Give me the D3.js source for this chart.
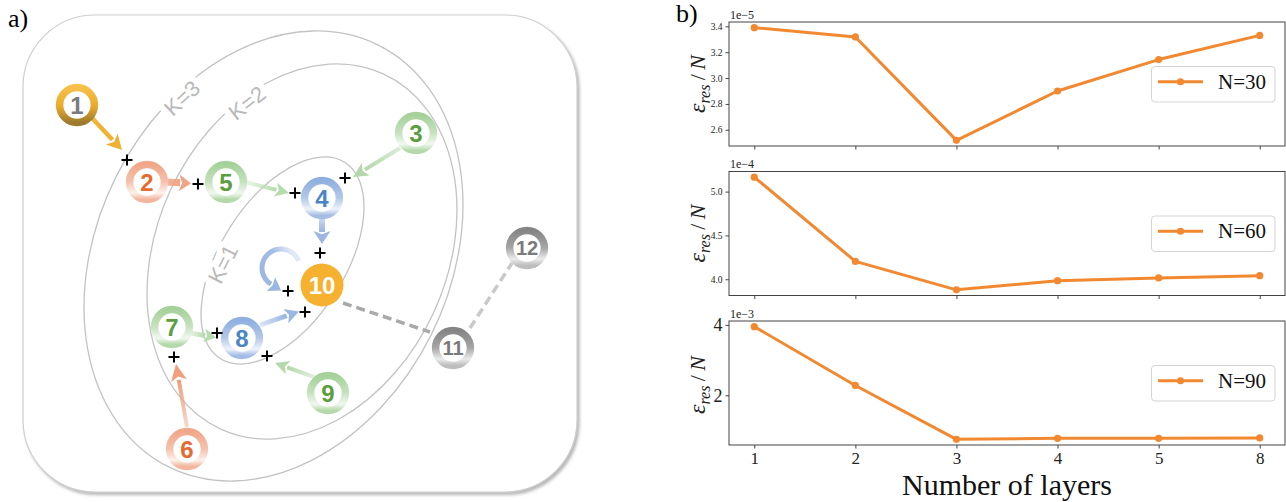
<!DOCTYPE html>
<html><head><meta charset="utf-8">
<script src="https://cdn.jsdelivr.net/npm/d3@7/dist/d3.min.js"></script>
<style>body{margin:0;background:#fff;} svg{display:block;}</style>
</head><body>
<script>
// ================= panel b data =================
const layers = ["1", "2", "3", "4", "5", "8"];
const errN30 = [3.39, 3.318, 2.518, 2.90, 3.143, 3.33];    // x 1e-5
const errN60 = [5.165, 4.204, 3.879, 3.984, 4.015, 4.041]; // x 1e-4
const errN90 = [3.95, 2.28, 0.75, 0.78, 0.78, 0.79];       // x 1e-3
const seriesLabels = ["N=30", "N=60", "N=90"];
const offsetLabels = ["1e\u22125", "1e\u22124", "1e\u22123"];
const yTicks30 = [2.6, 2.8, 3.0, 3.2, 3.4];
const yTicks60 = [4.0, 4.5, 5.0];
const yTicks90 = [2, 4];
const xLabel = "Number of layers";

// ================= panel a diagram =================
// [id, x, y, colour group]
const nodes = [
  [1, 77, 105, "gold"], [2, 147, 182, "orange"], [3, 416, 133, "green"],
  [4, 322, 198, "blue"], [5, 226, 182, "green"], [6, 187, 449, "orange"],
  [7, 172, 327, "green"], [8, 242, 338, "blue"], [9, 328, 393, "green"],
  [10, 322, 285, "solid"], [11, 453, 348, "gray"], [12, 527, 248, "gray"]
];
// [x1, y1, tipX, tipY, colour, shaft width, head length, head width, start opacity]
const arrows = [
  [92, 118, 122, 150, "#f0b030", 4.5, 15, 16, 0.95],
  [166, 182, 191, 183.5, "#f2a487", 7, 12, 17, 0.8],
  [245, 182, 289, 193, "#b6dcae", 4, 14, 14, 0.25],
  [400, 148, 353, 177, "#b3d9aa", 4, 15, 15, 0.5],
  [322, 218, 322, 244, "#9bb7e2", 6, 13, 17, 0.5],
  [187, 427, 176, 364, "#f0a07e", 4, 17, 16, 0.4],
  [190, 333, 216, 337.5, "#b6dcae", 5, 12, 14, 0.3],
  [260, 325, 299, 311.5, "#9ab6e2", 5, 14, 15, 0.35],
  [317, 378, 275, 363, "#b3d9aa", 4, 14, 14, 0.3]
];
const crosses = [
  [127, 160], [198, 184], [295, 193], [345, 178], [320, 253],
  [288, 291], [305, 312], [217, 333], [174, 357], [267, 356]
];
// [cx, cy, semi-major, semi-minor, rotation]
const ellipses = [
  [273.5, 256, 235.5, 176.3, -63.6],
  [302, 251.5, 195.3, 145.1, -65.4],
  [282.5, 260.5, 116.2, 62.1, -57.5]
];
// [x, y, rotation, text]
const kLabels = [[182, 98, -43, "K=3"], [247, 103, -38, "K=2"], [223, 264, -63, "K=1"]];
const dashed = [[343, 303, 430, 332, "#a9a9a9"], [470, 328, 512, 263, "#c9c9c9"]];

const W = 1286, H = 502;
const svg = d3.select("body").append("svg").attr("width", W).attr("height", H);
const defs = svg.append("defs");

// ---------- panel a ----------
const shadow = defs.append("filter").attr("id", "shadow").attr("x", "-5%").attr("y", "-5%").attr("width", "112%").attr("height", "112%");
shadow.append("feDropShadow").attr("dx", 2).attr("dy", 2.5).attr("stdDeviation", 1.8)
  .attr("flood-color", "#7a7a7a").attr("flood-opacity", 0.55);

const ringStops = {
  gold: [["0", "#f7c04a"], ["0.55", "#e9aa2a"], ["1", "#9c7a2e"]],
  orange: [["0", "#f2a78a"], ["0.5", "#f5c2ad"], ["0.82", "#fdf1ec"], ["1", "#f2b59e"]],
  green: [["0", "#a6d19b"], ["0.5", "#c6e2be"], ["0.82", "#f1f8ef"], ["1", "#b4d9ab"]],
  blue: [["0", "#8fb0de"], ["0.5", "#b3c8e8"], ["0.82", "#eef3fb"], ["1", "#a5bde4"]],
  gray: [["0", "#858585"], ["0.5", "#a6a6a6"], ["0.82", "#ececec"], ["1", "#bdbdbd"]]
};
const numColor = { gold: "#7b7b7b", orange: "#e76a30", green: "#5c9e3e", blue: "#4a86c6", gray: "#7a7a7a", solid: "#ffffff" };
Object.entries(ringStops).forEach(([k, st]) => {
  const g = defs.append("linearGradient").attr("id", "ring-" + k).attr("x1", 0).attr("y1", 0).attr("x2", 0).attr("y2", 1);
  st.forEach(s => g.append("stop").attr("offset", s[0]).attr("stop-color", s[1]));
});

const pa = svg.append("g");
pa.append("text").attr("x", 8).attr("y", 27).attr("font-family", "Liberation Serif, Times New Roman, serif")
  .attr("font-size", 26).text("a)");
pa.append("rect").attr("x", 23).attr("y", 15).attr("width", 554).attr("height", 477)
  .attr("rx", 72).attr("ry", 72).attr("fill", "#fff").attr("stroke", "#cfcfcf").attr("stroke-width", 1.2)
  .attr("filter", "url(#shadow)");

pa.selectAll("ellipse.k").data(ellipses).join("ellipse")
  .attr("transform", d => `translate(${d[0]},${d[1]}) rotate(${d[4]})`)
  .attr("rx", d => d[2]).attr("ry", d => d[3])
  .attr("fill", "none").attr("stroke", "#c3c3c3").attr("stroke-width", 1.3);

pa.selectAll("text.k").data(kLabels).join("text")
  .attr("transform", d => `translate(${d[0]},${d[1]}) rotate(${d[2]})`)
  .attr("text-anchor", "middle").attr("dy", "0.35em")
  .attr("font-family", "Liberation Sans, Arial, sans-serif").attr("font-size", 22)
  .attr("fill", "#b9b9b9").attr("stroke", "#fff").attr("stroke-width", 12)
  .attr("paint-order", "stroke").attr("stroke-linejoin", "round").text(d => d[3]);

// dashed links
dashed.forEach(d => {
  pa.append("line").attr("x1", d[0]).attr("y1", d[1]).attr("x2", d[2]).attr("y2", d[3])
    .attr("stroke", d[4]).attr("stroke-width", 3.5).attr("stroke-dasharray", "9,5");
});

// arrows
arrows.forEach((a, i) => {
  const [x1, y1, x2, y2, col, sw, hl, hw, op] = a;
  const dx = x2 - x1, dy = y2 - y1, L = Math.hypot(dx, dy);
  const ux = dx / L, uy = dy / L, px = -uy, py = ux;
  const bx = x2 - ux * hl, by = y2 - uy * hl;
  const gid = "arr" + i;
  const g = defs.append("linearGradient").attr("id", gid).attr("gradientUnits", "userSpaceOnUse")
    .attr("x1", x1).attr("y1", y1).attr("x2", bx).attr("y2", by);
  g.append("stop").attr("offset", 0).attr("stop-color", col).attr("stop-opacity", op);
  g.append("stop").attr("offset", 1).attr("stop-color", col).attr("stop-opacity", 1);
  pa.append("line").attr("x1", x1).attr("y1", y1).attr("x2", bx + ux * 1).attr("y2", by + uy * 1)
    .attr("stroke", `url(#${gid})`).attr("stroke-width", sw);
  pa.append("path").attr("d", `M${x2},${y2}L${bx + px * hw / 2},${by + py * hw / 2}L${bx + ux * hl * 0.25},${by + uy * hl * 0.25}L${bx - px * hw / 2},${by - py * hw / 2}Z`)
    .attr("fill", col);
});

// self loop on node 10
(function () {
  const cx = 281, cy = 268, r = 19;
  const a0 = -22 * Math.PI / 180, a1 = -238 * Math.PI / 180;
  const arc = d3.range(0, 41).map(k => {
    const t = a0 + (a1 - a0) * k / 40;
    return [cx + r * Math.cos(t), cy + r * Math.sin(t)];
  });
  const lg = defs.append("linearGradient").attr("id", "loopg").attr("gradientUnits", "userSpaceOnUse")
    .attr("x1", cx + r).attr("y1", cy).attr("x2", cx - r).attr("y2", cy + r);
  lg.append("stop").attr("offset", 0).attr("stop-color", "#9ab6e2").attr("stop-opacity", 0.3);
  lg.append("stop").attr("offset", 0.4).attr("stop-color", "#9ab6e2").attr("stop-opacity", 0.9);
  lg.append("stop").attr("offset", 1).attr("stop-color", "#9ab6e2").attr("stop-opacity", 1);
  pa.append("path").attr("d", d3.line()(arc)).attr("fill", "none").attr("stroke", "url(#loopg)").attr("stroke-width", 5);
  const e = arc[arc.length - 1];
  const ux = Math.sin(a1), uy = -Math.cos(a1);
  const tx = e[0] + ux * 12, ty = e[1] + uy * 12;
  const px = -uy, py = ux;
  pa.append("path").attr("d", `M${tx},${ty}L${e[0] + px * 8},${e[1] + py * 8}L${e[0] + ux * 2},${e[1] + uy * 2}L${e[0] - px * 8},${e[1] - py * 8}Z`)
    .attr("fill", "#9ab6e2");
})();

// nodes
const ng = pa.selectAll("g.node").data(nodes).join("g").attr("transform", d => `translate(${d[1]},${d[2]})`);
ng.append("circle").attr("r", d => d[3] === "solid" ? 21.5 : 17.4)
  .attr("fill", d => d[3] === "solid" ? "#f5b12f" : "#fff")
  .attr("stroke", d => d[3] === "solid" ? "none" : `url(#ring-${d[3]})`)
  .attr("stroke-width", 7.5);
ng.append("text").attr("text-anchor", "middle").attr("dy", "0.36em")
  .attr("font-family", "Liberation Sans, Arial, sans-serif").attr("font-weight", "bold")
  .attr("font-size", d => d[0] >= 11 ? 20 : 24)
  .attr("fill", d => numColor[d[3]]).text(d => d[0]);

// crosses
pa.selectAll("path.cross").data(crosses).join("path")
  .attr("d", d => `M${d[0] - 5.5},${d[1]}H${d[0] + 5.5}M${d[0]},${d[1] - 5.5}V${d[1] + 5.5}`)
  .attr("stroke", "#000").attr("stroke-width", 2);

// ---------- panel b ----------
const serif = "Liberation Serif, Times New Roman, serif";
const lineColor = "#f28830";
const x0 = 729, x1 = 1285, pH = 124;
const tops = [22, 171.5, 321];
const x = d3.scaleLinear().domain([-0.25, layers.length - 0.75]).range([x0, x1]);
const allSeries = [errN30, errN60, errN90];
const allTicks = [yTicks30, yTicks60, yTicks90];

svg.append("text").attr("x", 676).attr("y", 22).attr("font-family", serif).attr("font-size", 26).text("b)");

allSeries.forEach((vals, p) => {
  const top = tops[p];
  const ext = d3.extent(vals), pad = (ext[1] - ext[0]) * 0.05;
  const y = d3.scaleLinear().domain([ext[0] - pad, ext[1] + pad]).range([top + pH, top]);
  const g = svg.append("g");
  const big = p === 2;

  // y axis
  const ya = g.append("g").attr("transform", `translate(${x0},0)`)
    .call(d3.axisLeft(y).tickValues(allTicks[p]).tickSize(3.5).tickPadding(3)
      .tickFormat(big ? d3.format("d") : d3.format(".1f")));
  ya.select(".domain").remove();
  ya.selectAll("line").attr("stroke", "#444");
  ya.selectAll("text").attr("font-family", serif).attr("font-size", big ? 18 : 9.5).attr("fill", "#222");

  // x axis
  const xa = g.append("g").attr("transform", `translate(0,${top + pH})`)
    .call(d3.axisBottom(x).tickValues(d3.range(layers.length)).tickSize(3.5).tickPadding(3)
      .tickFormat(i => big ? layers[i] : ""));
  xa.select(".domain").remove();
  xa.selectAll("line").attr("stroke", "#444");
  xa.selectAll("text").attr("font-family", serif).attr("font-size", 17).attr("fill", "#222");

  // frame
  g.append("rect").attr("x", x0).attr("y", top).attr("width", x1 - x0).attr("height", pH)
    .attr("fill", "none").attr("stroke", "#444").attr("stroke-width", 1);

  // offset label
  g.append("text").attr("x", x0 + 1).attr("y", top - 3.5).attr("font-family", serif)
    .attr("font-size", 12).attr("fill", "#222").text(offsetLabels[p]);

  // y label
  const cy = top + pH / 2 + (big ? 2 : 0);
  const yl = g.append("text").attr("transform", `translate(705,${cy}) rotate(-90)`)
    .attr("text-anchor", "middle").attr("font-family", serif).attr("fill", "#222");
  yl.append("tspan").attr("font-style", "italic").attr("font-size", 24).text("\u03b5");
  yl.append("tspan").attr("font-style", "italic").attr("font-size", 16).attr("dy", 5).text("res");
  yl.append("tspan").attr("font-size", 22).attr("dy", -5).text("\u2009/\u2009");
  yl.append("tspan").attr("font-style", "italic").attr("font-size", 22).text("N");

  // series
  g.append("path").datum(vals).attr("fill", "none").attr("stroke", lineColor).attr("stroke-width", 3)
    .attr("stroke-linejoin", "round")
    .attr("d", d3.line().x((d, i) => x(i)).y(d => y(d)));
  g.selectAll("circle").data(vals).join("circle").attr("cx", (d, i) => x(i)).attr("cy", d => y(d))
    .attr("r", 3.6).attr("fill", lineColor);

  // legend (center right)
  const lx = 1151.5, ly = top + 44.5, lw = 123.5, lh = 35.5;
  g.append("rect").attr("x", lx).attr("y", ly).attr("width", lw).attr("height", lh).attr("rx", 3.5)
    .attr("fill", "#fff").attr("fill-opacity", 0.85).attr("stroke", "#d4d4d4").attr("stroke-width", 1);
  const my = ly + lh / 2 - 2.5;
  g.append("line").attr("x1", 1158).attr("x2", 1203).attr("y1", my).attr("y2", my)
    .attr("stroke", lineColor).attr("stroke-width", 3);
  g.append("circle").attr("cx", 1180.5).attr("cy", my).attr("r", 3.6).attr("fill", lineColor);
  g.append("text").attr("x", 1218).attr("y", my + 7).attr("font-family", serif).attr("font-size", 21)
    .attr("fill", "#111").text(seriesLabels[p]);
});

svg.append("text").attr("x", (x0 + x1) / 2).attr("y", 495).attr("text-anchor", "middle")
  .attr("font-family", serif).attr("font-size", 30).attr("fill", "#111").text(xLabel);
</script>
</body></html>
